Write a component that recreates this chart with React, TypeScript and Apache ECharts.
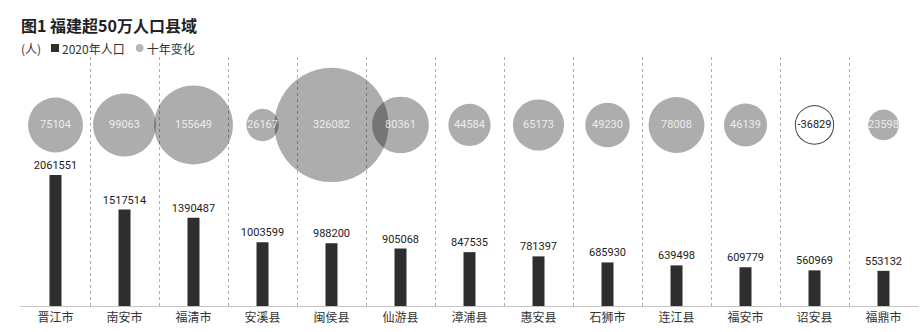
import React, { useEffect, useRef } from "react";
import * as echarts from "echarts";

const categories = ["晋江市", "南安市", "福清市", "安溪县", "闽侯县", "仙游县", "漳浦县", "惠安县", "石狮市", "连江县", "福安市", "诏安县", "福鼎市"];
const population2020 = [2061551, 1517514, 1390487, 1003599, 988200, 905068, 847535, 781397, 685930, 639498, 609779, 560969, 553132];
const tenYearChange = [75104, 99063, 155649, 26167, 326082, 80361, 44584, 65173, 49230, 78008, 46139, -36829, 23598];

const NUM_FONT = "Roboto, 'DejaVu Sans', sans-serif";
const CJK_FONT = "'Noto Sans CJK SC', 'Noto Sans', sans-serif";

export default function App() {
  const ref = useRef<HTMLDivElement>(null);
  useEffect(() => {
    document.body.style.margin = "0";
    if (!ref.current) return;
    const chart = echarts.init(ref.current, null, { renderer: "svg" });
    const bubbleRow = 0.727;
    chart.setOption({
      animation: false,
      backgroundColor: "#ffffff",
      title: {
        text: "图1 福建超50万人口县域",
        left: 21,
        top: 17,
        padding: 0,
        textStyle: { fontFamily: CJK_FONT, fontSize: 16, fontWeight: "bold", color: "#222" },
      },
      graphic: [
        {
          type: "text",
          left: 21,
          top: 42,
          style: { text: "(人)", fontFamily: CJK_FONT, fontSize: 12, fill: "#333" },
        },
      ],
      legend: {
        left: 51,
        top: 42,
        padding: 0,
        itemWidth: 8,
        itemHeight: 8,
        itemGap: 11,
        textStyle: { fontFamily: CJK_FONT, fontSize: 12, color: "#333", padding: [0, 0, 0, -2] },
        data: [
          { name: "2020年人口", icon: "rect", itemStyle: { color: "#2e2e2e" } },
          { name: "十年变化", icon: "circle", itemStyle: { color: "#a3a3a3" } },
        ],
      },
      grid: { left: 21, right: 6, top: 57, bottom: 26 },
      xAxis: [
        {
          type: "category",
          data: categories,
          position: "bottom",
          axisLine: { show: true, lineStyle: { color: "#888", width: 1 } },
          axisTick: { show: false },
          axisLabel: { fontFamily: CJK_FONT, fontSize: 12, color: "#333", margin: 4 },
          splitLine: {
            show: true,
            showMinLine: false,
            showMaxLine: false,
            lineStyle: { color: "#b0b0b0", type: [3, 3], width: 1 },
          },
        },
        {
          type: "category",
          data: categories,
          position: "top",
          axisLine: { show: true, lineStyle: { color: "#c4c4c4", width: 1 } },
          axisTick: { show: false },
          axisLabel: { show: false },
          splitLine: { show: false },
        },
      ],
      yAxis: [
        { type: "value", min: 0, max: 3920000, show: false, splitLine: { show: false } },
        { type: "value", min: 0, max: 1, show: false, splitLine: { show: false } },
      ],
      series: [
        {
          name: "2020年人口",
          type: "bar",
          xAxisIndex: 0,
          yAxisIndex: 0,
          barWidth: 12,
          data: population2020,
          itemStyle: { color: "#2e2e2e" },
          label: {
            show: true,
            position: "top",
            distance: 4,
            fontFamily: NUM_FONT,
            fontSize: 11,
            color: "#222",
          },
          z: 2,
        },
        {
          name: "十年变化",
          type: "scatter",
          xAxisIndex: 0,
          yAxisIndex: 1,
          clip: false,
          z: 3,
          symbolSize: (val: number[]) => 0.2 * Math.sqrt(Math.abs(val[2])),
          data: tenYearChange.map((v, i) => ({
            value: [i, bubbleRow, v],
            itemStyle:
              v < 0
                ? { color: "#ffffff", borderColor: "#444", borderWidth: 1, opacity: 1 }
                : { color: "rgba(0,0,0,0.4)" },
            label: { color: v < 0 ? "#222" : "#ffffff" },
          })),
          itemStyle: { color: "rgba(0,0,0,0.4)" },
          label: {
            show: true,
            position: "inside",
            fontFamily: NUM_FONT,
            fontSize: 11,
            formatter: (p: any) => String(p.value[2]),
          },
        },
      ],
    });
    return () => chart.dispose();
  }, []);
  return <div ref={ref} style={{ width: 924, height: 332, position: "absolute", left: 0, top: 0 }} />;
}
